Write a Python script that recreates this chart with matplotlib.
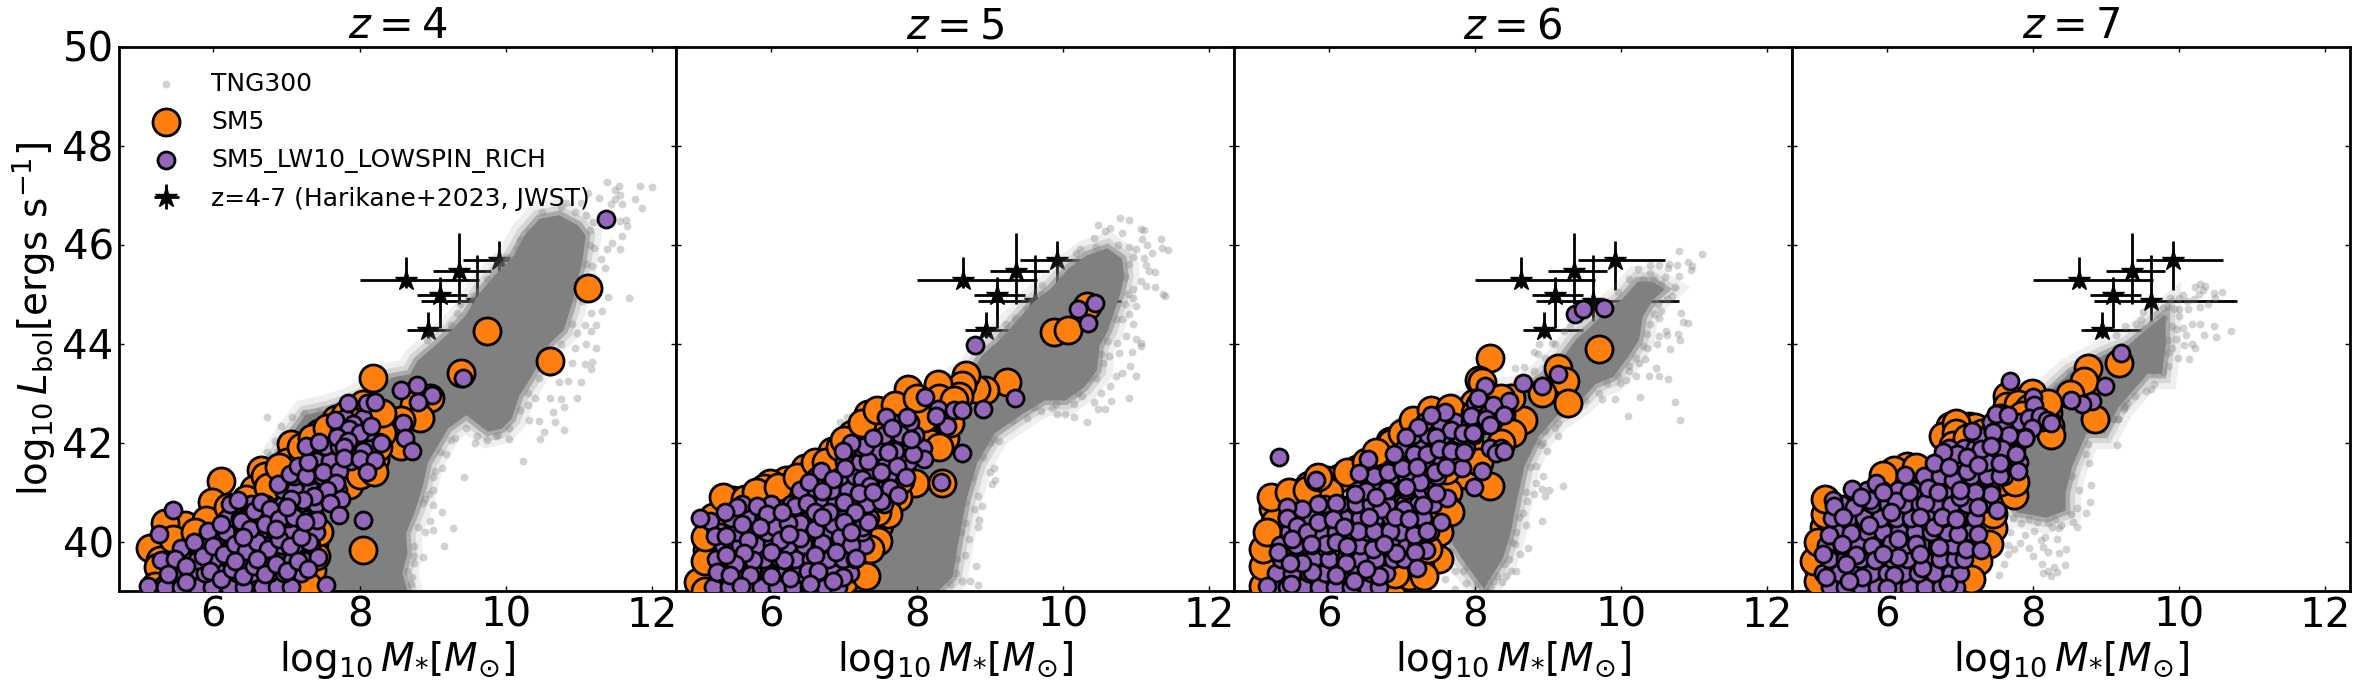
import matplotlib
matplotlib.use('Agg')
import matplotlib.pyplot as plt
import numpy as np

plt.rcParams['mathtext.fontset'] = 'dejavusans'

redshifts = [4, 5, 6, 7]

# JWST points (same in every panel): x, xlow, xhigh, y, ylow, yhigh
jwst_x = [8.63, 9.36, 9.91, 9.10, 9.61, 8.94]
jwst_xlo = [8.00, 9.00, 9.41, 8.785, 8.84, 8.65]
jwst_xhi = [9.64, 9.80, 10.60, 9.47, 10.79, 9.47]
jwst_y = [45.28, 45.46, 45.68, 44.97, 44.86, 44.27]
jwst_ylo = [45.12, 44.79, 45.09, 44.32, 44.45, 44.11]
jwst_yhi = [45.75, 46.24, 46.07, 45.35, 45.78, 44.64]

# TNG300 dense core, outline (too many points to read one by one)
core1 = [(7.0,39.0),(8.64,39.0),(8.57,39.36),(8.64,39.76),(8.62,40.17),(8.75,40.64),(8.85,41.12),(8.92,41.6),(9.08,42.0),(9.2,42.3),
         (9.46,42.58),(9.61,42.41),(9.76,42.24),(9.94,42.3),(10.07,42.5),(10.17,42.95),(10.32,43.29),(10.47,43.7),(10.6,44.03),(10.78,44.28),
         (10.88,44.75),(11.03,45.63),(11.08,46.17),(10.98,46.37),(10.73,46.57),(10.47,46.5),(10.27,46.17),(10.12,45.76),(9.86,45.36),(9.66,45.02),
         (9.46,44.55),(9.25,44.22),(9.05,43.95),(8.8,43.63),(8.7,43.36),(8.44,43.29),(8.34,43.12),(7.9,42.8),(7.58,42.64),(7.27,42.54),(7.0,42.0),(6.6,41.0)]
core2 = [(7.1,39.0),(8.27,39.0),(8.47,39.29),(8.54,39.9),(8.66,40.85),(8.81,41.6),(9.05,42.2),(9.44,42.6),(9.74,42.87),(10.03,42.87),
         (10.28,43.14),(10.45,43.47),(10.48,43.95),(10.6,44.28),(10.77,45.02),(10.82,45.36),(10.79,45.7),(10.6,45.9),(10.33,45.76),(10.08,45.5),
         (9.84,45.09),(9.6,44.82),(9.4,44.48),(9.1,44.0),(8.9,43.75),(8.76,43.4),(8.17,42.94),(7.68,42.67),(7.2,41.5),(7.4,40.0)]
core3 = [(8.12,39.08),(8.37,39.68),(8.47,40.16),(8.56,40.84),(8.66,41.52),(8.86,42.14),(9.1,42.54),(9.44,42.87),(9.64,43.2),(9.88,43.34),
         (10.08,43.74),(10.23,44.08),(10.28,44.55),(10.42,44.89),(10.57,45.09),(10.42,45.23),(10.23,45.23),(10.03,44.89),(9.79,44.62),(9.59,44.32),
         (9.4,44.08),(9.2,43.68),(8.95,43.34),(8.71,43.07),(8.12,42.87),(7.6,42.6),(7.2,41.5),(7.63,40.37),(7.68,40.02),(7.83,39.67),(8.03,39.26)]
core4 = [(7.79,40.6),(7.94,40.57),(8.18,40.5),(8.43,40.64),(8.43,40.98),(8.52,41.52),(8.72,42.2),(8.97,42.2),(9.06,42.46),(9.16,42.73),
         (9.36,43.07),(9.56,43.41),(9.75,43.41),(9.8,43.95),(9.8,44.55),(9.51,44.2),(9.31,43.95),(8.97,43.74),(8.52,43.4),(8.18,42.94),(7.6,42.2),(7.5,41.3)]

# TNG300 points outside the core
tng1 = [(11.39,47.27),(11.55,47.18),(11.49,47.11),(11.84,47.19),(12.0,47.17),(11.77,46.92),(11.87,46.74),(11.56,46.99),(11.28,46.94),(11.13,47.04),
        (11.03,46.84),(10.83,46.84),(11.49,46.91),(11.59,46.81),(11.44,46.81),(11.64,46.5),(11.66,46.37),(11.56,46.47),(11.59,46.17),(11.46,46.03),
        (11.57,45.91),(11.39,45.9),(11.21,45.93),(11.31,45.7),(11.36,45.53),(11.18,45.56),(11.4,44.94),(11.68,44.92),(11.32,44.65),(11.16,44.62),
        (11.23,44.38),(11.08,44.38),(11.17,44.25),(10.98,44.22),(11.1,43.98),(10.32,46.28),(10.17,45.93),(9.33,44.62),(9.38,44.79),(9.25,44.38),
        (8.92,44.08),(11.23,43.91),(11.18,43.63),(11.16,43.48),(11.08,43.59),(10.85,43.25),(11.03,43.22),(10.73,43.22),(10.97,42.9),(10.75,42.88),
        (10.8,42.71),(10.65,42.62),(10.68,42.41),(10.45,42.44),(10.32,42.45),(10.8,42.26),(10.52,42.22),(10.47,42.08),(10.23,41.63),(10.04,42.07),
        (9.86,42.14),(9.58,42.0),(9.61,42.14),(9.43,41.31),(9.25,42.05),(9.18,41.76),(9.13,41.49),(9.03,41.42),(9.0,41.05),(9.0,40.73),
        (9.13,40.6),(9.28,40.27),(8.97,40.41),(8.87,40.78),(9.0,40.24),(8.89,40.2),(9.15,39.9),(8.75,39.9),(8.87,39.69),(8.75,39.56),
        (8.72,39.29),(6.73,42.51),(6.92,42.33),(7.07,42.51),(7.24,42.6),(7.45,42.62),(6.73,41.81),(6.84,42.03),(6.77,41.72),(11.0,45.2),
        (11.1,45.6),(11.15,46.3),(11.1,46.6),(10.9,44.9),(10.95,43.9),(10.9,43.6),(10.6,43.4),(10.6,42.9),(10.4,42.9),(10.3,42.75),
        (11.12,45.0),(11.05,44.85),(11.15,46.0),(11.2,46.45),(10.95,46.65),(10.75,46.75),(10.5,46.65),(10.2,46.1),(10.0,45.75),(9.75,45.3),
        (9.55,44.95),(10.9,44.4),(10.75,44.0),(10.6,43.7),(10.45,43.3),(10.3,43.0),(10.2,42.65),(10.05,42.3),(9.9,42.15),(9.75,42.05),
        (9.45,42.3),(9.3,42.1),(9.1,41.8),(9.0,41.3),(8.9,40.85),(8.8,40.3),(8.75,39.7),(8.7,39.15),(8.65,39.4),(8.95,40.95)]
tng2 = [(10.78,46.54),(10.9,46.5),(10.48,46.4),(10.64,46.34),(10.57,46.27),(11.1,46.3),(11.06,46.32),(10.81,46.24),(11.08,46.11),(11.34,46.11),
        (11.35,45.93),(11.43,45.88),(11.15,46.0),(11.22,45.83),(10.42,46.13),(10.23,45.91),(10.17,45.83),(11.11,45.73),(11.13,45.58),(11.17,45.46),
        (11.25,45.44),(11.06,45.26),(11.13,45.17),(11.25,45.14),(11.36,45.0),(11.39,44.96),(10.96,44.92),(10.99,44.75),(9.71,45.19),(10.86,44.15),
        (10.94,43.83),(10.99,44.09),(11.06,44.01),(11.06,43.95),(10.76,43.81),(10.73,44.01),(10.52,43.78),(10.62,43.74),(10.91,43.54),(11.0,43.34),
        (10.72,43.34),(10.81,43.41),(10.64,43.15),(10.9,42.9),(10.52,42.99),(10.65,42.83),(10.42,42.81),(10.48,42.67),(10.57,42.67),(10.25,42.94),
        (10.15,42.77),(10.15,42.52),(10.02,42.57),(9.91,42.57),(9.84,42.7),(9.7,42.63),(9.34,44.52),(9.22,44.4),(9.32,44.28),(9.15,44.18),
        (9.05,43.91),(10.32,42.41),(9.12,42.03),(9.05,42.08),(9.05,41.49),(9.0,41.4),(9.07,41.25),(9.02,41.16),(8.84,40.91),(8.89,40.71),
        (8.78,40.65),(8.85,40.44),(8.83,40.3),(8.66,40.37),(8.71,40.06),(8.8,39.5),(8.66,39.72),(8.61,39.21),(8.73,39.2),(8.84,39.13),
        (8.53,39.36),(6.95,42.42),(7.04,42.51),(7.14,42.54),(10.9,45.6),(11.0,45.9),(10.95,45.1),(10.9,44.6),(10.95,44.4),(10.8,44.5),
        (10.95,45.75),(10.9,45.95),(10.75,46.0),(10.45,45.95),(10.2,45.65),(9.95,45.3),(9.7,45.0),(9.5,44.7),(10.85,45.35),(10.88,45.0),
        (10.85,44.8),(10.72,44.5),(10.6,44.05),(10.55,43.6),(10.45,43.3),(10.2,43.0),(9.9,42.78),(9.6,42.72),(9.3,42.45),(9.0,42.0),
        (8.9,41.7),(8.75,41.3),(8.65,40.8),(8.6,40.2),(8.55,39.65),(8.45,39.15),(8.85,41.85),(9.5,42.5),(10.35,43.3),(10.52,44.15)]
tng3 = [(10.79,45.87),(11.1,45.81),(10.91,45.65),(10.97,45.56),(10.95,45.48),(10.76,45.58),(10.64,45.52),(10.52,45.58),(10.4,45.58),(10.23,45.51),
        (10.4,45.43),(10.1,45.31),(10.79,45.36),(10.73,45.14),(10.69,44.96),(10.62,44.89),(10.82,44.62),(10.85,44.44),(10.92,44.42),(10.52,44.52),
        (10.61,44.25),(10.52,44.15),(10.62,44.18),(10.49,43.98),(10.77,44.2),(10.8,44.08),(10.67,43.89),(10.32,43.68),(10.24,43.6),(10.47,43.51),
        (10.1,43.44),(10.64,43.29),(10.51,43.34),(10.38,43.34),(10.2,43.34),(10.06,43.27),(9.98,43.21),(10.25,42.92),(9.92,42.88),(9.74,42.88),
        (10.73,42.82),(10.09,42.53),(10.81,42.46),(9.13,42.4),(9.14,42.14),(8.95,42.24),(8.81,43.82),(8.86,43.78),(8.55,43.51),(8.67,43.53),
        (8.88,43.98),(9.05,44.01),(9.22,44.25),(9.2,41.13),(9.01,41.05),(8.96,40.91),(8.92,41.06),(8.93,41.32),(8.83,41.18),(8.81,40.95),
        (8.71,40.81),(8.92,40.41),(8.69,40.33),(8.65,40.57),(8.72,39.86),(8.56,40.2),(8.51,40.0),(8.61,39.74),(8.47,39.65),(8.56,39.41),
        (8.37,39.18),(8.49,39.4),(7.83,39.41),(7.73,39.41),(7.59,39.24),(7.44,39.28),(7.1,39.16),(7.88,39.16),(7.73,39.04),(8.03,39.14),
        (6.94,42.44),(8.98,41.83),(8.93,42.0),(8.83,42.03),(8.84,41.52),(10.45,45.3),(10.55,45.2),(10.5,44.8),(10.4,44.4),(10.35,44.2),
        (7.9,39.5),(8.0,39.45),(8.2,39.1),(8.3,39.3),(7.6,39.6),(7.5,39.5),(10.3,43.95),(10.2,43.7),(9.8,43.2),(9.5,42.85),
        (9.95,45.05),(9.75,44.85),(9.5,44.55),(9.3,44.35),(9.1,44.0),(8.95,43.7),(8.8,43.45),(10.6,45.35),(10.45,44.6),(10.55,44.65),
        (10.35,43.9),(10.1,43.55),(9.95,43.35),(9.7,43.0),(9.35,42.7),(9.1,42.3),(8.9,41.95),(8.75,41.5),(8.7,41.0),(8.6,40.5),
        (8.55,39.95),(8.4,39.55),(8.25,39.2),(7.95,39.55),(7.65,39.8),(8.15,39.0),(8.42,39.3),(10.65,45.6),(10.3,45.3),(10.15,44.25)]
tng4 = [(10.29,45.21),(10.35,45.16),(10.22,45.14),(10.33,45.08),(10.59,45.04),(10.47,45.02),(10.27,45.01),(10.05,44.98),(10.0,44.92),(10.49,44.92),
        (10.2,44.89),(9.88,44.91),(10.39,44.79),(10.29,44.74),(10.12,44.69),(9.93,44.69),(9.78,44.72),(9.51,44.63),(9.79,44.52),(10.0,44.55),
        (10.17,44.4),(10.28,44.4),(10.48,44.35),(10.71,44.26),(10.34,44.18),(10.5,44.13),(10.09,44.18),(10.05,44.32),(9.9,44.35),(9.7,44.22),
        (10.17,44.0),(10.22,43.91),(10.07,43.97),(10.14,43.69),(9.98,43.71),(9.85,43.54),(9.78,43.42),(9.66,43.19),(9.62,43.08),(9.54,43.04),
        (9.41,44.4),(9.48,44.48),(9.26,44.35),(9.14,44.18),(9.61,44.38),(9.51,44.32),(9.75,44.01),(9.85,44.08),(9.61,43.74),(9.56,43.85),
        (9.75,43.81),(8.33,43.14),(8.42,43.23),(8.5,43.41),(9.09,42.48),(9.16,42.48),(9.26,42.73),(9.24,42.67),(9.39,42.94),(9.29,42.8),
        (9.24,42.71),(9.15,41.95),(9.16,42.48),(9.09,42.48),(8.79,41.15),(8.78,40.8),(8.63,41.05),(8.6,40.67),(8.72,40.57),(8.52,40.55),
        (8.6,40.3),(8.55,40.4),(8.38,40.33),(8.26,40.3),(8.36,40.27),(8.33,40.06),(8.45,39.84),(8.36,39.76),(8.21,39.79),(8.13,39.89),
        (8.11,40.03),(8.0,39.71),(7.94,39.86),(7.82,39.97),(7.74,39.84),(7.66,39.93),(7.65,39.74),(7.89,40.13),(8.01,40.22),(8.16,40.1),
        (7.69,40.2),(7.84,40.37),(7.72,40.47),(7.6,39.54),(7.53,39.33),(8.12,39.54),(8.13,39.36),(8.28,39.48),(8.43,39.52),(8.24,39.31),
        (8.33,39.38),(8.21,39.41),(8.53,41.32),(8.72,41.76),(8.75,41.97),(8.77,41.58),(8.2,40.4),(8.05,40.4),(7.95,40.45),(8.3,40.45),
        (9.95,44.1),(9.95,44.3),(10.0,44.7),(10.1,44.85),(9.85,44.75),(9.7,44.6),(9.65,44.05),(9.9,43.9),(9.65,43.45),(9.85,43.8)]

# SM5
sm5_1 = [(8.18,43.3),(9.39,43.4),(10.61,43.65),(8.04,39.83),(9.75,44.25),(11.13,45.12),(6.1,41.22),(5.98,40.8),(5.61,40.33),(7.06,41.97),
         (5.33,40.37),(5.13,39.86),(5.27,39.63),(5.24,39.49),(6.65,41.44),(6.55,41.07),(6.71,41.32),(7.0,41.6),(7.45,42.2),(7.68,42.47),
         (8.04,42.78),(8.22,42.58),(8.17,42.34),(8.97,42.9),(8.75,42.75),(8.82,42.5),(8.57,42.45),(8.56,41.93),(8.21,41.66),(7.98,41.56),
         (7.35,39.42),(7.38,39.97),(5.9,40.44),(7.93,42.54),(7.3,41.9),(7.7,42.3),(8.0,42.0),(7.5,41.6),(7.1,41.3),(6.8,40.9),
         (6.3,40.6),(5.7,40.0),(5.4,39.2),(5.7,39.3),(6.2,39.6),(6.6,40.0),(7.0,40.3),(7.3,39.1),(7.2,39.6),(5.5,39.7),
         (5.45,40.05),(5.75,40.2),(5.9,39.9),(6.2,40.7),(6.45,40.85),(6.75,41.1),(6.9,41.5),(7.2,41.9),(7.35,42.1),(7.55,42.3),
         (7.8,42.55),(8.3,42.2),(8.25,41.9),(8.3,42.6),(5.2,39.1),(5.35,39.05),(5.6,39.4),(7.4,39.7),(7.45,40.2),(7.4,41.0),
         (7.6,41.3),(7.85,41.15),(8.0,41.35),(8.2,41.4)]
sm5_2 = [(9.88,44.24),(10.07,44.28),(10.32,44.75),(9.23,43.23),(8.93,43.07),(8.8,43.08),(8.67,43.37),(8.61,43.17),(8.57,42.94),(8.28,43.19),
         (7.88,43.09),(7.33,42.53),(7.57,42.5),(8.38,42.1),(8.17,42.0),(7.97,41.18),(8.34,41.18),(7.74,40.89),(7.11,42.17),(6.83,41.83),
         (6.46,41.49),(6.2,41.25),(5.98,41.18),(5.9,41.08),(5.48,40.84),(5.36,40.71),(5.5,40.33),(7.48,40.33),(7.46,40.01),(7.14,39.62),
         (5.12,39.82),(5.14,39.35),(5.0,39.18),(7.33,42.58),(7.87,42.54),(7.77,41.25),(7.6,42.3),(8.1,42.5),(8.4,42.7),(7.85,42.2),
         (7.65,41.6),(7.3,41.3),(6.9,41.2),(6.4,41.0),(5.9,40.6),(5.2,40.1),(5.4,39.6),(7.3,40.6),(7.0,39.2),(5.1,39.0),
         (5.1,39.6),(5.1,40.1),(5.2,40.5),(5.35,40.9),(5.65,40.85),(5.8,41.0),(6.1,41.1),(6.35,41.3),(6.6,41.6),(6.75,41.6),
         (6.95,41.9),(7.0,42.05),(7.25,42.4),(7.45,42.65),(7.7,42.75),(8.0,42.9),(8.3,42.9),(8.5,42.85),(8.45,42.4),(8.3,41.9),
         (7.6,40.55),(7.45,40.6),(7.3,39.3),(7.35,39.85),(5.3,40.3)]
sm5_3 = [(9.69,43.88),(8.2,43.7),(9.14,43.51),(9.23,43.25),(8.05,43.27),(8.09,43.22),(8.91,43.0),(9.27,42.79),(8.66,42.46),(8.49,42.89),
         (8.35,42.9),(7.98,42.8),(8.34,42.33),(7.73,42.57),(7.49,42.6),(7.27,42.43),(7.17,42.26),(6.83,42.03),(8.2,41.12),(7.88,41.35),
         (7.63,41.01),(7.51,39.65),(7.24,39.48),(6.85,39.07),(6.14,41.29),(5.97,41.25),(6.39,41.46),(5.73,41.15),(5.55,40.95),(5.31,40.84),
         (5.24,40.67),(5.26,40.4),(5.19,40.03),(5.16,39.65),(5.19,39.28),(6.85,42.0),(7.93,41.93),(7.24,40.03),(8.1,42.45),(7.8,42.1),
         (7.5,41.9),(7.3,41.2),(7.6,40.7),(7.4,40.4),(7.1,39.3),(5.1,39.1),(5.3,39.9),(5.5,40.5),(6.0,41.0),(6.6,41.5),
         (5.1,39.5),(5.1,39.85),(5.15,40.2),(5.2,40.9),(5.45,41.0),(5.7,41.05),(5.85,41.3),(6.25,41.4),(6.5,41.6),(6.65,41.8),
         (7.0,42.2),(7.15,42.45),(7.4,42.65),(7.65,42.7),(8.0,42.6),(8.35,42.55),(8.5,42.2),(7.6,41.45),(7.65,40.6),(7.5,40.2),
         (7.35,39.85),(7.3,39.3),(6.9,39.35),(8.05,41.6),(8.35,42.0)]
sm5_4 = [(9.17,43.61),(8.75,43.51),(8.69,43.24),(8.5,42.97),(8.85,42.48),(7.99,43.0),(7.64,42.94),(7.64,42.73),(7.79,42.77),(8.21,42.6),
         (8.23,42.33),(6.86,42.33),(7.12,42.33),(6.76,42.13),(7.74,40.93),(7.45,40.27),(7.1,39.52),(6.22,41.46),(6.02,41.22),(6.27,41.52),
         (5.19,40.71),(5.14,40.3),(5.12,39.72),(5.07,39.41),(7.3,40.7),(7.2,42.31),(8.0,42.5),(7.55,42.5),(7.95,42.7),(6.95,42.4),
         (7.25,41.1),(7.4,41.5),(6.4,41.2),(5.1,39.1),(5.2,39.9),(7.2,39.85),(7.0,39.3),(5.25,40.6),(7.55,41.2),(7.7,41.9),
         (5.05,39.2),(5.0,39.6),(5.05,40.0),(5.15,40.55),(5.15,40.85),(6.1,41.45),(6.4,41.5),(5.95,41.35),(7.45,40.55),(7.4,39.95),
         (7.25,39.6),(7.15,39.25),(6.95,42.2),(7.3,42.2),(7.6,42.4),(8.2,42.8),(8.25,42.15),(7.85,42.55),(7.75,41.2),(6.9,41.95),
         (7.1,42.1),(7.0,41.6)]

# SM5_LW10_LOWSPIN_RICH, the pile at low mass: rows of (y, x values)
pile_1 = [(39.08,[5.33,5.55,5.78,5.98,6.21,6.42,6.66,6.87,7.06]),(39.36,[5.45,5.66,5.89,6.1,6.32,6.53,6.76,6.97,7.2]),
          (39.63,[5.4,5.78,5.99,6.22,6.43,6.65,6.87,7.08,7.28]),(39.92,[5.82,6.03,6.26,6.47,6.7,6.92,7.12,7.33]),
          (40.2,[5.98,6.17,6.4,6.62,6.84,7.05,7.27,7.4]),(40.48,[6.18,6.36,6.58,6.8,7.02,7.22,7.4]),
          (40.76,[6.3,6.51,6.72,6.95,7.17,7.4]),(41.05,[6.95,7.12,7.33,7.52,7.7]),(41.33,[7.1,7.3,7.48,7.65]),
          (41.62,[7.4,7.6,7.88,8.12]),(41.93,[7.52,7.72,7.95,8.18]),(42.22,[7.72,7.95,8.12]),(42.5,[7.8,8.05])]
pile_2 = [(39.08,[5.2,5.42,5.65,5.87,6.08,6.3,6.52,6.74,6.92]),(39.36,[5.3,5.52,5.75,5.97,6.19,6.4,6.62,6.85,7.08]),
          (39.64,[5.25,5.47,5.68,5.9,6.12,6.33,6.55,6.78,6.99,7.15]),(39.92,[5.35,5.57,5.8,6.02,6.23,6.45,6.67,6.88,7.1,7.28]),
          (40.2,[5.3,5.52,5.73,5.95,6.16,6.38,6.6,6.82,7.03,7.25]),(40.48,[5.45,5.67,5.9,6.1,6.32,6.53,6.76,6.98,7.18,7.35]),
          (40.76,[5.6,6.0,6.28,6.45,6.66,6.88,7.1,7.32,7.55]),(41.04,[6.4,6.62,6.82,7.05,7.27,7.48]),
          (41.32,[6.62,6.95,7.15,7.37,7.6]),(41.6,[7.0,7.22,7.44,7.65,7.88]),(41.88,[7.05,7.25,7.48,7.7,7.92,8.08]),
          (42.16,[7.55,7.75,7.97]),(42.42,[7.65,7.9])]
pile_3 = [(39.08,[5.22,5.42,5.65,5.87,6.08,6.3,6.52,6.68]),(39.36,[5.28,5.5,5.72,5.94,6.15,6.37,6.58,6.78]),
          (39.64,[5.35,5.57,5.78,6.0,6.22,6.43,6.65,6.87,7.02]),(39.92,[5.33,5.55,5.77,5.98,6.2,6.42,6.63,6.85,7.07,7.2]),
          (40.2,[5.45,5.67,5.88,6.1,6.32,6.53,6.75,6.97,7.18,7.38]),(40.48,[5.55,5.76,5.98,6.2,6.42,6.63,6.85,7.07,7.28]),
          (40.76,[5.95,6.15,6.37,6.58,6.8,7.02,7.22,7.42]),(41.04,[6.4,6.62,6.84,7.05,7.27,7.42]),
          (41.32,[6.62,6.85,7.06,7.28,7.48]),(41.6,[6.9,7.12,7.34,7.55,7.75]),(41.88,[7.02,7.24,7.46,7.68,7.88,8.2,8.35]),
          (42.15,[7.15,7.36,7.56,7.78,7.98]),(42.42,[7.3,7.52,7.72,7.93,8.13])]
pile_4 = [(39.08,[5.22,5.43,5.65,5.87,6.08,6.3,6.52,6.74,6.95]),(39.36,[5.13,5.35,5.57,5.78,6.0,6.22,6.43,6.65,6.87,7.0]),
          (39.64,[5.2,5.42,5.63,5.85,6.07,6.28,6.5,6.72,6.93,7.05]),(39.92,[5.17,5.38,5.6,5.82,6.03,6.25,6.47,6.68,6.9,7.12]),
          (40.2,[5.3,5.52,5.73,5.95,6.17,6.38,6.6,6.82,7.03,7.15]),(40.48,[5.25,5.47,5.68,5.9,6.12,6.33,6.55,6.77,6.98,7.2]),
          (40.76,[5.37,5.58,5.8,6.02,6.23,6.45,6.67,6.88,7.1,7.3]),(41.04,[5.72,5.93,6.15,6.37,6.58,6.8,7.02,7.23,7.42]),
          (41.32,[6.5,6.72,6.93,7.15,7.37,7.6]),(41.6,[6.72,6.94,7.16,7.37,7.62,7.8]),(41.88,[6.85,7.06,7.2,7.5,7.72]),
          (42.15,[7.25,7.5,7.75,7.88]),(42.42,[7.42,7.6,7.82,8.12])]

# SM5_LW10_LOWSPIN_RICH, marks that can be told apart
pur_1 = [(5.44,40.64),(5.26,40.16),(5.56,39.86),(5.73,39.98),(5.28,39.63),(5.47,39.64),(5.62,39.5),(5.38,39.34),(5.1,39.1),(5.63,39.19),
         (5.93,40.22),(6.1,40.36),(6.22,40.75),(6.33,40.83),(6.38,40.42),(6.55,40.61),(6.65,40.8),(6.77,40.66),(6.88,41.17),(7.05,41.37),
         (7.15,41.53),(7.27,41.32),(7.3,41.6),(7.27,41.92),(7.45,42.02),(7.5,41.4),(7.72,41.42),(7.68,41.19),(7.55,41.05),(7.74,40.86),
         (7.59,40.77),(7.72,40.53),(8.04,40.44),(7.54,39.13),(7.43,39.68),(7.42,40.44),(7.31,40.0),(7.37,40.92),(7.22,40.83),(7.06,40.86),
         (7.66,42.45),(7.84,42.79),(8.1,42.79),(8.21,42.81),(7.91,42.37),(7.86,42.27),(8.01,42.2),(8.16,42.34),(7.69,42.12),(7.84,42.03),
         (7.78,41.9),(7.78,41.69),(8.04,41.83),(8.01,41.66),(8.21,41.65),(8.29,41.98),(8.1,41.4),(8.56,43.06),(8.78,43.17),(8.99,42.96),
         (8.8,42.81),(8.59,42.39),(8.62,42.09),(8.72,41.82),(9.42,43.3),(11.37,46.52),
         (5.85,39.7),(6.0,39.9),(6.15,39.75),(6.3,39.95),(6.45,39.8),(6.6,40.0),(6.75,39.85),(6.9,40.05),(7.05,39.9),(7.2,40.1),
         (5.95,39.4),(6.1,39.25),(6.25,39.45),(6.4,39.3),(6.55,39.5),(6.7,39.35),(6.85,39.55),(7.0,39.4),(7.15,39.6),(7.3,39.45),
         (6.5,40.25),(6.7,40.35),(6.9,40.45),(7.1,40.5),(7.25,40.4),(6.4,40.1),(6.85,40.25),(7.0,40.7),(6.6,39.65),(6.3,39.6)]
pur_2 = [(10.44,44.82),(10.2,44.69),(10.34,44.42),(8.79,43.96),(9.34,42.9),(8.9,42.67),(8.11,42.92),(8.28,42.68),(8.5,42.65),(8.61,42.65),
         (7.57,42.52),(7.86,42.52),(8.41,42.34),(8.26,42.54),(8.61,41.78),(8.33,41.2),(7.63,41.08),(7.5,40.81),(7.74,40.93),(8.1,41.67),
         (7.95,41.76),(7.77,42.17),(7.92,42.07),(7.7,41.83),(7.58,41.59),(7.73,41.52),(7.47,41.83),(7.33,41.63),(7.28,41.93),(7.1,42.0),
         (6.99,41.83),(7.01,41.49),(6.69,41.42),(6.52,41.2),(6.85,41.27),(7.25,41.27),(7.36,41.12),(7.21,40.97),(6.7,41.03),(7.0,40.8),
         (6.33,40.72),(6.49,40.78),(5.81,40.71),(5.53,40.69),(5.37,40.59),(5.17,40.42),(5.03,40.47),(5.24,40.11),(5.38,40.11),(7.25,40.3),
         (6.85,40.35),(6.4,40.37),(6.06,40.3),(6.23,40.38),(7.33,40.4),(6.94,40.1),(6.4,40.08),(6.13,40.04),(5.69,40.04),(7.1,39.93),
         (6.7,39.96),(7.16,39.67),(6.89,39.79),(6.6,39.72),(6.18,39.63),(6.0,39.79),(5.75,39.62),(5.63,39.76),(5.51,39.55),(5.39,39.72),
         (5.26,39.38),(5.44,39.33),(5.71,39.33),(6.26,39.27),(6.5,39.41),(6.65,39.4),(6.99,39.28),(5.59,39.1),(6.54,39.14),
         (5.95,40.55),(6.15,40.6),(6.6,40.6),(6.8,40.6),(7.15,40.6),(5.6,40.35),(5.85,40.3),(6.6,40.25),(6.7,40.5),(7.0,40.4),
         (7.5,41.4),(7.6,41.8),(7.4,42.1),(7.65,42.3),(7.1,40.2),(6.25,40.15),(6.0,39.3),(6.85,39.2),(7.4,41.0),(7.85,41.3)]
pur_3 = [(9.37,44.6),(9.47,44.69),(9.77,44.71),(9.13,43.39),(8.91,43.15),(8.65,43.21),(8.13,43.15),(8.46,42.83),(8.25,42.75),(8.0,42.79),
         (8.04,42.9),(7.95,42.53),(8.15,42.48),(8.2,42.36),(8.39,42.55),(7.59,42.62),(7.4,42.55),(7.22,42.32),(7.67,42.25),(7.83,42.2),
         (7.97,42.2),(7.05,42.11),(7.46,42.11),(5.31,41.71),(5.82,41.25),(6.54,41.67),(6.41,41.39),(6.81,41.41),(7.0,41.49),(7.17,41.76),
         (6.89,41.76),(7.34,41.76),(7.51,41.86),(7.67,41.83),(8.29,41.78),(8.39,41.83),(7.82,41.48),(8.1,41.42),(7.98,41.1),(7.53,40.4),
         (7.61,40.88),(7.46,40.98),(7.28,40.74),(7.03,40.65),(6.71,40.65),(6.51,41.03),(6.35,40.95),(6.09,40.78),(5.85,40.76),(5.63,40.66),
         (5.43,40.69),(5.42,40.48),(5.56,40.32),(5.5,40.06),(5.3,39.79),(5.96,39.94),(6.4,40.22),(6.62,40.21),(6.83,40.21),(7.17,40.14),
         (7.34,40.22),(7.33,39.82),(7.18,39.78),(6.92,39.76),(7.21,39.47),(6.68,39.31),(6.51,39.44),(6.23,39.57),(6.09,39.33),(5.77,39.38),
         (5.63,39.57),(5.46,39.57),(5.48,39.14),(5.15,39.11),(6.34,39.21),
         (5.7,40.2),(5.85,40.4),(6.05,40.45),(6.2,40.3),(6.55,40.5),(6.9,40.5),(7.1,40.45),(7.25,41.2),(7.05,41.1),(6.8,41.05),
         (6.65,40.9),(7.2,41.5),(7.45,41.4),(7.6,41.5),(7.85,41.8),(5.75,39.95),(6.1,40.0),(6.25,39.9),(6.6,39.85),(6.75,39.95)]
pur_4 = [(9.2,43.81),(8.98,43.15),(8.8,42.83),(8.67,42.78),(8.52,42.85),(7.68,43.25),(8.0,42.92),(8.01,42.75),(7.49,42.57),(7.65,42.55),
         (7.95,42.5),(8.09,42.53),(8.19,42.45),(8.24,42.4),(7.99,42.3),(7.17,42.24),(7.45,42.22),(7.67,42.14),(7.89,42.11),(7.89,42.1),
         (7.67,42.16),(7.45,42.22),(7.28,41.86),(7.57,41.86),(7.42,41.92),(7.77,41.76),(6.96,41.76),(6.77,41.8),(6.64,41.58),(6.25,41.35),
         (5.85,41.18),(5.52,41.07),(5.26,40.84),(5.28,40.71),(5.55,40.69),(5.77,40.84),(6.12,40.81),(6.52,40.78),(6.56,41.08),(6.91,41.25),
         (7.1,41.42),(7.55,41.32),(7.55,41.59),(7.79,41.42),(7.42,40.96),(7.5,40.63),(7.24,40.16),(7.08,39.84),(7.28,39.82),(6.97,40.16),
         (6.65,40.3),(6.87,40.73),(5.75,40.33),(5.51,40.18),(5.21,40.13),(5.39,39.95),(5.8,39.91),(6.06,39.96),(6.71,39.88),(6.15,39.69),
         (5.83,39.63),(5.58,39.72),(5.44,39.55),(5.13,39.74),(5.17,39.28),(5.66,39.28),(6.1,39.33),(6.48,39.47),(6.0,39.07),(6.83,39.14),(5.48,39.21),
         (5.4,40.5),(5.65,40.9),(5.95,41.0),(6.05,40.6),(6.3,41.0),(6.45,40.5),(6.7,41.0),(6.75,40.5),(7.0,40.9),(7.2,41.0),
         (7.25,40.7),(7.1,41.7),(7.25,41.55),(7.0,41.05),(6.85,41.5),(6.4,39.95),(6.95,40.45),(6.15,40.05),(5.95,39.75),(6.45,39.75)]

cores = [core1, core2, core3, core4]
tngs = [tng1, tng2, tng3, tng4]
sm5s = [sm5_1, sm5_2, sm5_3, sm5_4]
piles = [pile_1, pile_2, pile_3, pile_4]
purs = [pur_1, pur_2, pur_3, pur_4]

fig = plt.figure(figsize=(23.57, 6.93), dpi=100)
W, H = 2357.0, 693.0
lefts = [118.5, 676.0, 1234.0, 1792.0]
pw = 557.5
top, bottom = 46.5, 591.0

for i in range(4):
    ax = fig.add_axes([lefts[i]/W, 1-bottom/H, pw/W, (bottom-top)/H])
    ax.errorbar(jwst_x, jwst_y,
                xerr=[np.array(jwst_x)-np.array(jwst_xlo), np.array(jwst_xhi)-np.array(jwst_x)],
                yerr=[np.array(jwst_y)-np.array(jwst_ylo), np.array(jwst_yhi)-np.array(jwst_y)],
                fmt='*', color='k', ms=16, elinewidth=2, zorder=1,
                label='z=4-7 (Harikane+2023, JWST)')
    core = np.array(cores[i])
    # soft edge round the core
    ax.fill(core[:,0], core[:,1], facecolor='none', edgecolor='gray', alpha=0.12, lw=24, zorder=1.4)
    ax.fill(core[:,0], core[:,1], facecolor='none', edgecolor='gray', alpha=0.22, lw=15, zorder=1.42)
    ax.fill(core[:,0], core[:,1], facecolor='none', edgecolor='gray', alpha=0.5, lw=8, zorder=1.45)
    ax.fill(core[:,0], core[:,1], color='gray', lw=1.5, zorder=1.5)
    t = np.array(tngs[i])
    ax.scatter(t[:,0], t[:,1], s=32, color='gray', alpha=0.35, lw=0, zorder=1.6, label='TNG300')
    o = np.array(sm5s[i])
    ax.scatter(o[:,0], o[:,1], s=380, color='C1', edgecolors='k', lw=2, zorder=3, label='SM5')
    pile_x = [x for y, xs in piles[i] for x in xs]
    pile_y = [y for y, xs in piles[i] for x in xs]
    p = np.array(purs[i])
    px = np.concatenate([pile_x, p[:,0]])
    py = np.concatenate([pile_y, p[:,1]])
    ax.scatter(px, py, s=150, color='C4', edgecolors='k', lw=2, zorder=4, label='SM5_LW10_LOWSPIN_RICH')

    ax.set_xlim(4.7, 12.33)
    ax.set_ylim(39, 50)
    ax.set_xticks([6, 8, 10, 12])
    ax.set_yticks([40, 42, 44, 46, 48, 50])
    ax.tick_params(direction='in', top=True, right=True, length=3.5, width=1, labelsize=29)
    for s in ax.spines.values():
        s.set_linewidth(2)
    ax.set_title('$z=%d$' % redshifts[i], fontsize=30, pad=6)
    ax.set_xlabel(r'$\log_{10} M_{*} [M_{\odot}]$', fontsize=28, labelpad=2)
    if i == 0:
        ax.set_ylabel(r'$\log_{10} L_{\rm bol} [\rm ergs\ s^{-1}]$', fontsize=28, labelpad=4)
        h, l = ax.get_legend_handles_labels()
        order = [l.index('TNG300'), l.index('SM5'), l.index('SM5_LW10_LOWSPIN_RICH'), l.index('z=4-7 (Harikane+2023, JWST)')]
        ax.legend([h[k] for k in order], [l[k] for k in order], loc='upper left', frameon=False, fontsize=18,
                  bbox_to_anchor=(0.0, 0.995), labelspacing=0.56)
    else:
        ax.set_yticklabels([])

fig.savefig('out.png', dpi=100)
